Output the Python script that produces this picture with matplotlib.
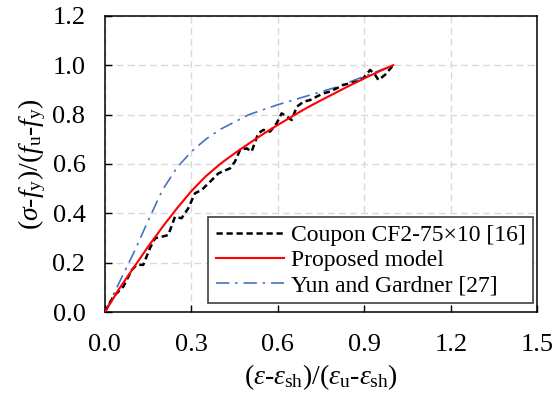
import matplotlib
matplotlib.use("Agg")
import matplotlib.pyplot as plt

plt.rcParams["font.family"] = ["Liberation Serif", "DejaVu Serif"]
plt.rcParams["mathtext.fontset"] = "custom"
plt.rcParams["mathtext.rm"] = "Liberation Serif"
plt.rcParams["mathtext.it"] = "Liberation Serif:italic"
plt.rcParams["font.size"] = 17

# normalised strain-hardening curves
coupon_x = [0.0, 0.029, 0.064, 0.093, 0.110, 0.133, 0.156, 0.174, 0.197, 0.220,
            0.243, 0.266, 0.289, 0.3125, 0.336, 0.365, 0.394, 0.434, 0.451, 0.469,
            0.492, 0.509, 0.532, 0.550, 0.573, 0.596, 0.613, 0.631, 0.648, 0.666,
            0.689, 0.712, 0.735, 0.758, 0.781, 0.805, 0.827, 0.851, 0.874, 0.897,
            0.920, 0.9375, 0.949, 0.972, 1.0]
coupon_y = [0.0, 0.062, 0.103, 0.170, 0.191, 0.191, 0.258, 0.299, 0.305, 0.312,
            0.386, 0.380, 0.420, 0.481, 0.495, 0.528, 0.562, 0.582, 0.609, 0.657,
            0.663, 0.650, 0.724, 0.738, 0.731, 0.765, 0.805, 0.792, 0.778, 0.832,
            0.852, 0.859, 0.873, 0.886, 0.893, 0.907, 0.920, 0.927, 0.934, 0.947,
            0.981, 0.961, 0.940, 0.961, 1.0]

model_x = [0.0, 0.05, 0.1, 0.15, 0.2, 0.25, 0.3, 0.35, 0.4, 0.45, 0.5, 0.55,
           0.6, 0.65, 0.7, 0.75, 0.8, 0.85, 0.9, 0.95, 1.0]
model_y = [0.0, 0.095, 0.18, 0.265, 0.345, 0.42, 0.49, 0.55, 0.60, 0.643, 0.683,
           0.722, 0.758, 0.793, 0.827, 0.858, 0.888, 0.918, 0.947, 0.974, 1.0]

yun_x = [0.0, 0.05, 0.1, 0.15, 0.2, 0.25, 0.3, 0.35, 0.4, 0.45, 0.5, 0.6, 0.7,
         0.8, 0.9, 1.0]
yun_y = [0.0, 0.12, 0.24, 0.37, 0.495, 0.585, 0.65, 0.70, 0.74, 0.77, 0.80,
         0.84, 0.875, 0.91, 0.955, 1.0]

x_ticks = [0.0, 0.3, 0.6, 0.9, 1.2, 1.5]
y_ticks = [0.0, 0.2, 0.4, 0.6, 0.8, 1.0, 1.2]

fig = plt.figure(figsize=(5.55, 3.96), dpi=100)
ax = fig.add_axes([0.189, 0.212, 0.779, 0.748])

ax.plot(coupon_x, coupon_y, color="black", lw=1.8, ls=(0, (2.5, 1.5)),
        label="Coupon CF2-75×10 [16]", zorder=3)
ax.plot(model_x, model_y, color="#FF0000", lw=1.5,
        label="Proposed model", zorder=4)
ax.plot(yun_x, yun_y, color="#4472C4", lw=1.2, ls=(0, (8, 3.5, 1.5, 3.5)),
        label="Yun and Gardner [27]", zorder=2)

ax.set_xlim(0, 1.5)
ax.set_ylim(0, 1.2)
ax.set_xticks(x_ticks)
ax.set_yticks(y_ticks)
ax.set_xticklabels([f"{v:.1f}" for v in x_ticks])
ax.set_yticklabels([f"{v:.1f}" for v in y_ticks])
ax.tick_params(direction="in", length=5, width=1.0, labelsize=19)
ax.tick_params(axis="x", pad=16)
ax.tick_params(axis="y", pad=14)
for s in ax.spines.values():
    s.set_linewidth(1.1)

ax.grid(True, color="#D9D9D9", lw=1.0, ls=(0, (5, 3)), zorder=0)
ax.set_axisbelow(True)

ax.set_xlabel(r"($\varepsilon$-$\varepsilon_{\mathrm{sh}}$)/($\varepsilon_{\mathrm{u}}$-$\varepsilon_{\mathrm{sh}}$)",
              fontsize=20, labelpad=4)
ax.set_ylabel(r"($\sigma$-$f_{\mathrm{y}}$)/($f_{\mathrm{u}}$-$f_{\mathrm{y}}$)",
              fontsize=20, labelpad=3)

leg = ax.legend(loc="lower right", bbox_to_anchor=(0.99, 0.03), fancybox=False,
                framealpha=1, edgecolor="#404040", handlelength=2.9,
                handletextpad=0.3, labelspacing=0.15, borderpad=0.3,
                borderaxespad=0)
leg.get_frame().set_linewidth(1.2)

fig.savefig("out.png", dpi=100)
